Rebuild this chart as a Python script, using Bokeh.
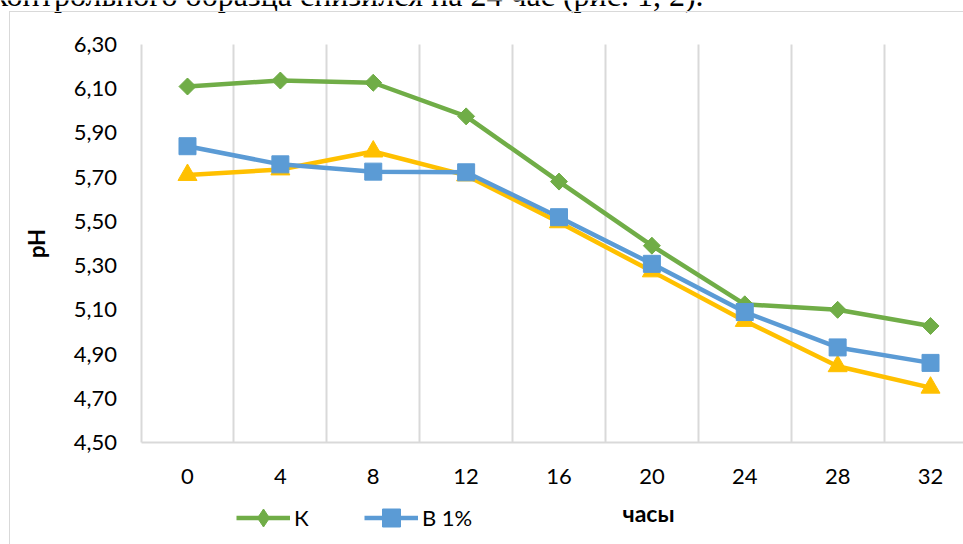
from bokeh.plotting import figure
from bokeh.models import (Range1d, FixedTicker, CustomJSTickFormatter, Legend, LegendItem,
                          Label, InlineStyleSheet)
from bokeh.embed import file_html
from bokeh.resources import INLINE
import math

hours = [0, 4, 8, 12, 16, 20, 24, 28, 32]
k_vals = [6.11, 6.137, 6.127, 5.975, 5.68, 5.39, 5.125, 5.10, 5.027]
b1_vals = [5.84, 5.758, 5.725, 5.722, 5.519, 5.308, 5.09, 4.93, 4.86]
s3_vals = [5.71, 5.735, 5.816, 5.708, 5.496, 5.274, 5.05, 4.845, 4.748]
y_ticks = [4.5, 4.7, 4.9, 5.1, 5.3, 5.5, 5.7, 5.9, 6.1, 6.3]
grid_pos = [2, 6, 10, 14, 18, 22, 26, 30]
y_lo, y_hi = 4.5, 6.3
x_lo = -2

W, H = 963, 544
FONT = "Lato"

# whole canvas is the frame; axes are pinned with fixed_location
p = figure(width=W, height=H, output_backend="svg", toolbar_location=None,
           x_range=Range1d(-8.053, 33.42), y_range=Range1d(4.0387, 6.499),
           min_border=0, min_border_left=0, min_border_right=0,
           min_border_top=0, min_border_bottom=0)
p.outline_line_color = None
p.background_fill_color = "white"
p.border_fill_color = "white"

# x axis
p.xaxis.fixed_location = y_lo
p.xaxis.bounds = (x_lo, 33.42)
p.xaxis.ticker = FixedTicker(ticks=hours)
p.xaxis.major_tick_line_color = None
p.xaxis.minor_tick_line_color = None
p.xaxis.axis_line_color = "#d9d9d9"
p.xaxis.axis_line_width = 2
p.xaxis.major_label_text_font = FONT
p.xaxis.major_label_text_font_size = "22px"
p.xaxis.major_label_text_color = "black"
p.xaxis.major_label_standoff = 20

# y axis
p.yaxis.fixed_location = x_lo
p.yaxis.bounds = (y_lo, y_hi)
p.yaxis.ticker = FixedTicker(ticks=y_ticks)
p.yaxis.formatter = CustomJSTickFormatter(code="return tick.toFixed(2).replace('.', ',');")
p.yaxis.major_tick_line_color = None
p.yaxis.minor_tick_line_color = None
p.yaxis.axis_line_color = "#d9d9d9"
p.yaxis.axis_line_width = 2
p.yaxis.major_label_text_font = FONT
p.yaxis.major_label_text_font_size = "22px"
p.yaxis.major_label_text_color = "black"
p.yaxis.major_label_standoff = 18
p.yaxis.axis_label = "pH"
p.yaxis.axis_label_text_font = FONT
p.yaxis.axis_label_text_font_style = "bold"
p.yaxis.axis_label_text_font_size = "22px"
p.yaxis.axis_label_text_color = "black"
p.yaxis.axis_label_standoff = 21

p.ygrid.grid_line_color = None
p.xgrid.ticker = FixedTicker(ticks=grid_pos)
p.xgrid.grid_line_color = "#d9d9d9"
p.xgrid.grid_line_width = 2
try:
    p.xgrid.cross_bounds = (y_lo, y_hi)
except Exception:
    p.xgrid.grid_line_color = None
    p.segment(x0=grid_pos, x1=grid_pos, y0=[y_lo] * len(grid_pos),
              y1=[y_hi] * len(grid_pos), line_color="#d9d9d9", line_width=2)

green, blue, yellow = "#70AD47", "#5B9BD5", "#FFC000"

lk = p.line(hours, k_vals, line_color=green, line_width=4.5)
# narrow diamond hidden under the rotated squares; it supplies the legend glyph
mk_leg = p.scatter(hours, k_vals, marker="diamond", size=16,
                   fill_color=green, line_color=green)
mk = p.scatter(hours, k_vals, marker="square", size=12, angle=math.pi / 4,
               fill_color=green, line_color=green)
l3 = p.line(hours, s3_vals, line_color=yellow, line_width=4.5)
m3 = p.scatter(hours, s3_vals, marker="triangle", size=19,
               fill_color=yellow, line_color=yellow)
lb = p.line(hours, b1_vals, line_color=blue, line_width=4.5)
mb = p.scatter(hours, b1_vals, marker="square", size=17,
               fill_color=blue, line_color=blue)

legend = Legend(items=[LegendItem(label="К", renderers=[lk, mk_leg]),
                       LegendItem(label="В 1%", renderers=[lb, mb])],
                orientation="horizontal", location=(236, 4),
                border_line_color=None, background_fill_alpha=0,
                label_text_font=FONT, label_text_font_size="22px",
                label_text_color="black",
                glyph_width=54, glyph_height=45, label_standoff=4,
                spacing=50, padding=0, margin=0)
p.add_layout(legend, "center")

p.add_layout(Label(x=648, y=H - 512, x_units="screen", y_units="screen",
                   text="часы", text_font=FONT, text_font_style="bold",
                   text_font_size="23px", text_align="center",
                   text_baseline="middle", text_color="black"))

p.add_layout(Label(x=-8, y=H + 6, x_units="screen", y_units="screen",
                   text="контрольного образца снизился на 24 час (рис. 1, 2).",
                   text_font="Liberation Serif", text_font_size="32px",
                   text_align="left", text_baseline="alphabetic",
                   text_color="black"))

# light grey border of the chart area (left and top edges)
p.stylesheets = [InlineStyleSheet(css=""":host::after { content: ''; position: absolute;
 left: 9px; top: 11px; right: -5px; bottom: -5px; border-left: 1.5px solid #d9d9d9;
 border-top: 1.5px solid #d9d9d9; pointer-events: none; }""")]

open("out.html", "w").write(file_html(p, INLINE))
